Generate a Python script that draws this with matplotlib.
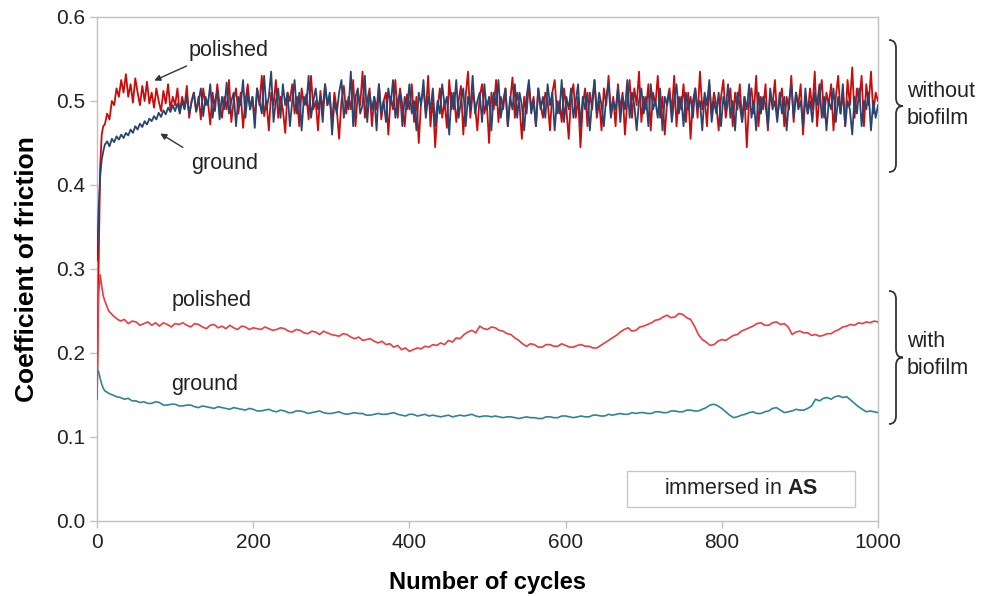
import numpy as np
import matplotlib
matplotlib.use("Agg")
import matplotlib.pyplot as plt
from matplotlib.path import Path
from matplotlib.patches import PathPatch, Rectangle

plt.rcParams['font.family'] = ['Liberation Sans', 'DejaVu Sans']
plt.rcParams['mathtext.fontset'] = 'custom'
plt.rcParams['mathtext.rm'] = 'Liberation Sans'
plt.rcParams['mathtext.bf'] = 'Liberation Sans:bold'

# ---------------- data ----------------
head_x = [0, 2, 4, 6, 8]
noisy_x = head_x + list(range(10, 1000, 3)) + [1000]
smooth_x = head_x + list(range(10, 1001, 5))

polished_dry = [0.15, 0.30, 0.42, 0.46, 0.47,
    0.472, 0.485, 0.478, 0.50, 0.495, 0.515, 0.505, 0.525, 0.51, 0.532,
    0.505, 0.52, 0.498, 0.527, 0.51, 0.495, 0.518, 0.50, 0.523, 0.497,
    0.51, 0.492, 0.515, 0.50, 0.488, 0.512, 0.497, 0.52, 0.49, 0.505,
    0.495, 0.515, 0.485, 0.505, 0.492, 0.518, 0.48, 0.50, 0.51, 0.487,
    0.505, 0.478, 0.515, 0.495, 0.50, 0.472, 0.51, 0.488, 0.52, 0.495,
    0.48, 0.505, 0.49, 0.525, 0.475, 0.50, 0.515, 0.485, 0.51, 0.468,
    0.50, 0.52, 0.49, 0.505, 0.478, 0.515, 0.495, 0.53, 0.482, 0.50,
    0.465, 0.51, 0.495, 0.525, 0.48, 0.505, 0.49, 0.462, 0.51, 0.50,
    0.52, 0.485, 0.505, 0.47, 0.515, 0.495, 0.508, 0.478, 0.53, 0.49,
    0.50, 0.465, 0.512, 0.488, 0.52, 0.495, 0.505, 0.475, 0.51, 0.49,
    0.455, 0.50, 0.518, 0.485, 0.505, 0.49, 0.525, 0.47, 0.51, 0.495,
    0.535, 0.48, 0.50, 0.515, 0.47, 0.505, 0.49, 0.52, 0.478, 0.50,
    0.51, 0.46, 0.505, 0.49, 0.525, 0.48, 0.515, 0.495, 0.47, 0.508,
    0.49, 0.52, 0.475, 0.505, 0.45, 0.50, 0.515, 0.485, 0.53, 0.47,
    0.505, 0.445, 0.49, 0.515, 0.48, 0.50, 0.468, 0.525, 0.49, 0.51,
    0.475, 0.50, 0.518, 0.46, 0.505, 0.535, 0.48, 0.51, 0.495, 0.465,
    0.505, 0.52, 0.485, 0.50, 0.45, 0.51, 0.49, 0.525, 0.475, 0.505,
    0.49, 0.515, 0.47, 0.50, 0.528, 0.48, 0.51, 0.495, 0.455, 0.505,
    0.485, 0.52, 0.49, 0.505, 0.47, 0.515, 0.495, 0.48, 0.51, 0.50,
    0.465, 0.51, 0.525, 0.485, 0.50, 0.475, 0.515, 0.49, 0.455, 0.505,
    0.52, 0.48, 0.505, 0.445, 0.495, 0.515, 0.47, 0.51, 0.49, 0.525,
    0.48, 0.50, 0.465, 0.515, 0.495, 0.53, 0.485, 0.505, 0.47, 0.52,
    0.49, 0.51, 0.46, 0.50, 0.525, 0.48, 0.515, 0.495, 0.535, 0.475,
    0.505, 0.49, 0.52, 0.465, 0.51, 0.495, 0.53, 0.48, 0.505, 0.46,
    0.50, 0.515, 0.485, 0.53, 0.47, 0.505, 0.49, 0.52, 0.475, 0.51,
    0.455, 0.50, 0.515, 0.48, 0.535, 0.49, 0.505, 0.47, 0.52, 0.485,
    0.51, 0.495, 0.465, 0.505, 0.525, 0.48, 0.50, 0.515, 0.47, 0.51,
    0.49, 0.52, 0.475, 0.505, 0.445, 0.50, 0.515, 0.485, 0.53, 0.47,
    0.505, 0.49, 0.52, 0.465, 0.51, 0.495, 0.525, 0.48, 0.50, 0.515,
    0.47, 0.505, 0.49, 0.53, 0.475, 0.51, 0.495, 0.52, 0.46, 0.505,
    0.485, 0.515, 0.49, 0.535, 0.47, 0.505, 0.525, 0.48, 0.51, 0.495,
    0.52, 0.465, 0.505, 0.53, 0.485, 0.51, 0.47, 0.525, 0.495, 0.54,
    0.48, 0.515, 0.50, 0.53, 0.47, 0.52, 0.495, 0.535, 0.485, 0.51,
    0.50]

ground_dry = [0.31, 0.37, 0.41, 0.43, 0.44,
    0.448, 0.452, 0.446, 0.455, 0.451, 0.458, 0.454, 0.46, 0.456, 0.462,
    0.459, 0.466, 0.462, 0.47, 0.466, 0.473, 0.469, 0.476, 0.472, 0.479,
    0.476, 0.482, 0.478, 0.486, 0.481, 0.489, 0.484, 0.492, 0.487, 0.495,
    0.488, 0.497, 0.486, 0.50, 0.49, 0.505, 0.485, 0.498, 0.51, 0.488,
    0.50, 0.515, 0.482, 0.505, 0.495, 0.52, 0.48, 0.50, 0.512, 0.478,
    0.505, 0.49, 0.522, 0.485, 0.50, 0.51, 0.47, 0.505, 0.495, 0.525,
    0.48, 0.51, 0.49, 0.505, 0.468, 0.515, 0.50, 0.485, 0.53, 0.49,
    0.505, 0.535, 0.475, 0.50, 0.515, 0.48, 0.52, 0.495, 0.51, 0.47,
    0.50, 0.525, 0.485, 0.51, 0.465, 0.505, 0.495, 0.53, 0.48, 0.50,
    0.515, 0.49, 0.505, 0.475, 0.52, 0.495, 0.51, 0.46, 0.50, 0.485,
    0.51, 0.525, 0.48, 0.50, 0.49, 0.535, 0.47, 0.505, 0.515, 0.485,
    0.495, 0.53, 0.475, 0.51, 0.49, 0.505, 0.465, 0.52, 0.485, 0.50,
    0.475, 0.515, 0.495, 0.525, 0.48, 0.50, 0.51, 0.47, 0.505, 0.49,
    0.52, 0.485, 0.50, 0.465, 0.51, 0.495, 0.525, 0.48, 0.505, 0.49,
    0.515, 0.47, 0.50, 0.485, 0.52, 0.495, 0.505, 0.46, 0.51, 0.49,
    0.525, 0.48, 0.50, 0.515, 0.47, 0.505, 0.49, 0.53, 0.485, 0.50,
    0.51, 0.475, 0.52, 0.49, 0.505, 0.465, 0.51, 0.495, 0.525, 0.48,
    0.50, 0.515, 0.47, 0.505, 0.49, 0.52, 0.48, 0.51, 0.495, 0.465,
    0.505, 0.525, 0.485, 0.50, 0.47, 0.515, 0.49, 0.505, 0.48, 0.52,
    0.495, 0.51, 0.465, 0.50, 0.485, 0.525, 0.475, 0.505, 0.49, 0.515,
    0.48, 0.50, 0.52, 0.47, 0.505, 0.49, 0.51, 0.465, 0.50, 0.525,
    0.485, 0.51, 0.495, 0.47, 0.505, 0.52, 0.48, 0.50, 0.49, 0.515,
    0.475, 0.505, 0.49, 0.525, 0.48, 0.51, 0.495, 0.465, 0.50, 0.515,
    0.485, 0.505, 0.47, 0.52, 0.49, 0.50, 0.48, 0.515, 0.465, 0.505,
    0.495, 0.51, 0.475, 0.50, 0.52, 0.485, 0.505, 0.47, 0.51, 0.49,
    0.505, 0.48, 0.515, 0.49, 0.50, 0.465, 0.51, 0.495, 0.525, 0.475,
    0.50, 0.485, 0.51, 0.47, 0.505, 0.49, 0.52, 0.48, 0.50, 0.465,
    0.51, 0.495, 0.475, 0.505, 0.49, 0.52, 0.48, 0.50, 0.465, 0.51,
    0.485, 0.505, 0.495, 0.47, 0.515, 0.49, 0.50, 0.475, 0.51, 0.485,
    0.505, 0.465, 0.50, 0.52, 0.48, 0.51, 0.49, 0.50, 0.47, 0.515,
    0.485, 0.50, 0.475, 0.51, 0.495, 0.52, 0.48, 0.505, 0.465, 0.50,
    0.49, 0.515, 0.475, 0.505, 0.485, 0.52, 0.47, 0.50, 0.49, 0.46,
    0.505, 0.485, 0.515, 0.47, 0.50, 0.49, 0.51, 0.465, 0.50, 0.48,
    0.495]

polished_bio = [0.145, 0.27, 0.293, 0.28, 0.268,
    0.262, 0.25, 0.245, 0.241, 0.238, 0.24, 0.235, 0.238, 0.237, 0.233,
    0.235, 0.237, 0.233, 0.236, 0.232, 0.236, 0.234, 0.231, 0.235, 0.234,
    0.236, 0.233, 0.231, 0.235, 0.234, 0.231, 0.229, 0.233, 0.234, 0.23,
    0.232, 0.229, 0.233, 0.23, 0.228, 0.232, 0.231, 0.228, 0.23, 0.229,
    0.228, 0.231, 0.229, 0.227, 0.228, 0.23, 0.229, 0.226, 0.225, 0.228,
    0.227, 0.224, 0.223, 0.226, 0.225, 0.222, 0.226, 0.224, 0.222, 0.221,
    0.22, 0.223, 0.222, 0.219, 0.217, 0.219, 0.215, 0.216, 0.217, 0.214,
    0.212, 0.214, 0.21, 0.211, 0.207, 0.209, 0.204, 0.206, 0.202, 0.204,
    0.206, 0.205, 0.208, 0.207, 0.21, 0.209, 0.212, 0.21, 0.215, 0.213,
    0.218, 0.217, 0.222, 0.225, 0.227, 0.224, 0.232, 0.229, 0.228, 0.231,
    0.23, 0.227, 0.226, 0.223, 0.222, 0.218, 0.215, 0.211, 0.208, 0.211,
    0.21, 0.207, 0.207, 0.21, 0.21, 0.208, 0.208, 0.211, 0.209, 0.207,
    0.207, 0.209, 0.21, 0.208, 0.208, 0.206, 0.206, 0.209, 0.212, 0.215,
    0.218, 0.221, 0.225, 0.228, 0.23, 0.226, 0.227, 0.231, 0.232, 0.234,
    0.236, 0.239, 0.24, 0.243, 0.245, 0.242, 0.243, 0.247, 0.246, 0.242,
    0.24, 0.232, 0.222, 0.216, 0.213, 0.209, 0.21, 0.214, 0.216, 0.215,
    0.218, 0.221, 0.222, 0.226, 0.228, 0.23, 0.232, 0.235, 0.236, 0.233,
    0.233, 0.236, 0.237, 0.234, 0.235, 0.231, 0.222, 0.225, 0.226, 0.224,
    0.224, 0.221, 0.222, 0.22, 0.221, 0.223, 0.223, 0.226, 0.228, 0.231,
    0.232, 0.234, 0.233, 0.236, 0.235, 0.237, 0.236, 0.238, 0.237]

ground_bio = [0.18, 0.178, 0.17, 0.163, 0.158,
    0.155, 0.152, 0.15, 0.148, 0.147, 0.145, 0.146, 0.143, 0.143, 0.141,
    0.142, 0.14, 0.14, 0.142, 0.141, 0.138, 0.138, 0.139, 0.139, 0.137,
    0.137, 0.138, 0.138, 0.136, 0.135, 0.137, 0.136, 0.135, 0.134, 0.136,
    0.135, 0.134, 0.133, 0.135, 0.134, 0.133, 0.132, 0.134, 0.133, 0.131,
    0.131, 0.132, 0.133, 0.131, 0.13, 0.132, 0.131, 0.129, 0.129, 0.131,
    0.131, 0.13, 0.128, 0.129, 0.13, 0.131, 0.129, 0.128, 0.128, 0.129,
    0.13, 0.128, 0.127, 0.128, 0.129, 0.128, 0.128, 0.126, 0.126, 0.127,
    0.128, 0.127, 0.127, 0.128, 0.129, 0.127, 0.126, 0.125, 0.127, 0.127,
    0.125, 0.126, 0.127, 0.125, 0.126, 0.125, 0.124, 0.125, 0.126, 0.124,
    0.125, 0.126, 0.125, 0.126, 0.127, 0.125, 0.124, 0.125, 0.125, 0.124,
    0.125, 0.124, 0.123, 0.124, 0.124, 0.123, 0.122, 0.123, 0.124, 0.123,
    0.123, 0.122, 0.122, 0.124, 0.124, 0.123, 0.123, 0.125, 0.125, 0.124,
    0.123, 0.124, 0.125, 0.124, 0.124, 0.126, 0.126, 0.125, 0.125, 0.127,
    0.126, 0.127, 0.128, 0.127, 0.127, 0.129, 0.128, 0.129, 0.129, 0.128,
    0.128, 0.13, 0.13, 0.129, 0.129, 0.131, 0.131, 0.13, 0.13, 0.132,
    0.132, 0.131, 0.131, 0.133, 0.135, 0.138, 0.139, 0.137, 0.134, 0.13,
    0.126, 0.123, 0.124, 0.126, 0.127, 0.129, 0.13, 0.128, 0.128, 0.13,
    0.131, 0.134, 0.135, 0.132, 0.129, 0.13, 0.131, 0.133, 0.132, 0.132,
    0.134, 0.137, 0.145, 0.143, 0.146, 0.147, 0.145, 0.148, 0.149, 0.147,
    0.148, 0.144, 0.14, 0.136, 0.133, 0.13, 0.131, 0.13, 0.129]

x_ticks = [0, 200, 400, 600, 800, 1000]
y_ticks = [0.0, 0.1, 0.2, 0.3, 0.4, 0.5, 0.6]

# ---------------- figure ----------------
W, H = 989, 596
fig = plt.figure(figsize=(W / 100, H / 100), dpi=100)
ax = fig.add_axes([97 / W, 1 - 521 / H, (878 - 97) / W, (521 - 17) / H])

ax.plot(noisy_x, polished_dry, color='#cc0a0a', lw=1.3, zorder=3)
ax.plot(noisy_x, ground_dry, color='#2a4470', lw=1.3, zorder=4)
ax.plot(smooth_x, polished_bio, color='#ee3b3f', lw=1.2, zorder=3)
ax.plot(smooth_x, ground_bio, color='#2f8596', lw=1.2, zorder=3)

ax.set_xlim(0, 1000)
ax.set_ylim(0, 0.6)
ax.set_xticks(x_ticks)
ax.set_yticks(y_ticks)
ax.set_yticklabels([f"{v:.1f}" for v in y_ticks])
for s in ax.spines.values():
    s.set_color('#c0c0c0')
    s.set_linewidth(1.0)
ax.tick_params(axis='both', colors='#c0c0c0', labelcolor='#222222',
               labelsize=15, length=5, width=1.0, direction='out')
ax.tick_params(axis='x', pad=4)
ax.set_xlabel('Number of cycles', fontsize=17, fontweight='bold', labelpad=13)
ax.set_ylabel('Coefficient of friction', fontsize=19, fontweight='bold', labelpad=12)

# annotations
fs = 15.5
ax.text(168, 0.56, 'polished', fontsize=fs, ha='center', va='center', color='#222222')
ax.annotate('', xy=(70, 0.523), xytext=(118, 0.543),
            arrowprops=dict(arrowstyle='-|>', color='#333333', lw=1.0, mutation_scale=9))
ax.text(163, 0.426, 'ground', fontsize=fs, ha='center', va='center', color='#222222')
ax.annotate('', xy=(78, 0.463), xytext=(113, 0.443),
            arrowprops=dict(arrowstyle='-|>', color='#333333', lw=1.0, mutation_scale=9))
ax.text(147, 0.262, 'polished', fontsize=fs, ha='center', va='center', color='#222222')
ax.text(138, 0.162, 'ground', fontsize=fs, ha='center', va='center', color='#222222')

# immersed box
ax.add_patch(Rectangle((0.679, 0.028), 0.292, 0.071, transform=ax.transAxes,
                       facecolor='white', edgecolor='#c8c8c8', lw=1.0, zorder=5))
ax.text(0.825, 0.0635, 'immersed in $\\mathbf{AS}$', transform=ax.transAxes,
        ha='center', va='center', fontsize=fs, color='#222222', zorder=6)

# braces (figure pixel coordinates)
def brace(x0, y0, y1, w=14):
    ym = (y0 + y1) / 2
    xl = x0
    xv = x0 + w * 0.5
    xt = x0 + w
    pts = [(xl, y0), (xv, y0), (xv, y0 + 8),
           (xv, ym - 8),
           (xv, ym), (xt, ym),
           (xv, ym), (xv, ym + 8),
           (xv, y1 - 8),
           (xv, y1), (xl, y1)]
    codes = [Path.MOVETO, Path.CURVE3, Path.CURVE3,
             Path.LINETO,
             Path.CURVE3, Path.CURVE3,
             Path.CURVE3, Path.CURVE3,
             Path.LINETO,
             Path.CURVE3, Path.CURVE3]
    verts = [(x / W, 1 - y / H) for x, y in pts]
    fig.patches.append(PathPatch(Path(verts, codes), transform=fig.transFigure,
                                 fill=False, edgecolor='#333333', lw=1.3))

brace(889, 40, 172)
brace(889, 291, 424)
fig.text(907 / W, 1 - 105 / H, 'without\nbiofilm', fontsize=fs, ha='left', va='center',
         color='#222222', linespacing=1.4)
fig.text(907 / W, 1 - 355 / H, 'with\nbiofilm', fontsize=fs, ha='left', va='center',
         color='#222222', linespacing=1.4)

fig.savefig('out.png', dpi=100)
